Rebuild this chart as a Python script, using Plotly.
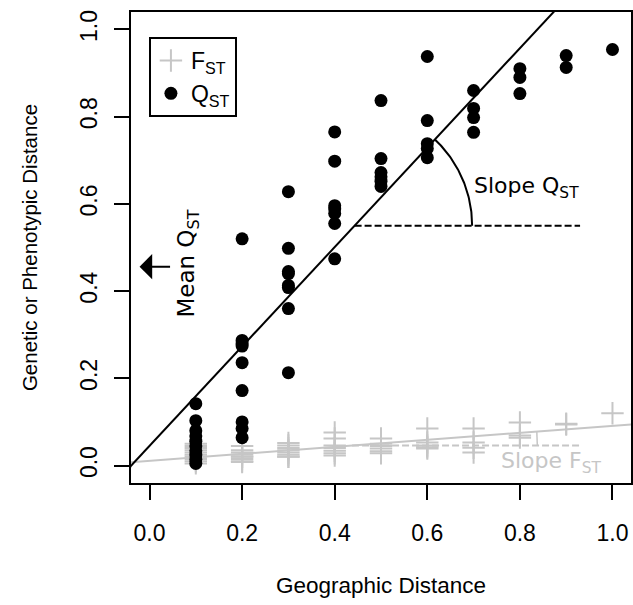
import numpy as np
import plotly.graph_objects as go

# ---------------- data ----------------
geo_distance = [0.1, 0.2, 0.3, 0.4, 0.5, 0.6, 0.7, 0.8, 0.9, 1.0]

qst_by_distance = [
    [0.142, 0.103, 0.080, 0.068, 0.056, 0.045, 0.034, 0.024, 0.014, 0.005],
    [0.520, 0.287, 0.280, 0.274, 0.236, 0.172, 0.100, 0.085, 0.064],
    [0.628, 0.498, 0.445, 0.440, 0.413, 0.408, 0.360, 0.213],
    [0.765, 0.698, 0.596, 0.588, 0.578, 0.555, 0.474],
    [0.837, 0.704, 0.672, 0.662, 0.652, 0.640],
    [0.938, 0.791, 0.738, 0.727, 0.706],
    [0.860, 0.819, 0.798, 0.764],
    [0.910, 0.890, 0.853],
    [0.940, 0.913],
    [0.954],
]

fst_by_distance = [
    [0.050, 0.045, 0.040, 0.035, 0.030, 0.025, 0.020, 0.015, 0.010, 0.005],
    [0.045, 0.035, 0.030, 0.025, 0.020, 0.020, 0.015, 0.010, 0.008],
    [0.052, 0.046, 0.040, 0.035, 0.030, 0.025, 0.020, 0.020],
    [0.076, 0.062, 0.046, 0.040, 0.034, 0.028, 0.023],
    [0.062, 0.050, 0.045, 0.039, 0.033, 0.028],
    [0.085, 0.053, 0.046, 0.042, 0.039],
    [0.085, 0.053, 0.041, 0.030],
    [0.099, 0.069, 0.064],
    [0.096, 0.094],
    [0.120],
]

# regression lines (intercept, slope)
qst_fit = [0.045, 1.14]
fst_fit = [0.011, 0.08]
# horizontal reference levels for the slope illustrations, and the end of the dashes
qst_slope_level = 0.55
fst_slope_level = 0.046
slope_dash_end = 0.93
mean_qst = 0.456

x_ticks = [0.0, 0.2, 0.4, 0.6, 0.8, 1.0]
y_ticks = [0.0, 0.2, 0.4, 0.6, 0.8, 1.0]

# ---------------- layout geometry ----------------
W, H = 633, 605
M_L, M_R, M_T, M_B = 131, 0, 12, 122
x_range = [-0.04, 1.04]
y_range = [-0.04, 1.04]
px_per_x = (W - M_L - M_R) / (x_range[1] - x_range[0])
px_per_y = (H - M_T - M_B) / (y_range[1] - y_range[0])

BLACK = "#000000"
GREY = "#c6c6c6"
AX_FONT = "Liberation Sans, Arial, Helvetica, sans-serif"
ANN_FONT = "DejaVu Sans, Verdana, sans-serif"

def flatten(dists, groups):
    xs, ys = [], []
    for d, g in zip(dists, groups):
        xs.extend([d] * len(g))
        ys.extend(g)
    return xs, ys

qx, qy = flatten(geo_distance, qst_by_distance)
fx, fy = flatten(geo_distance, fst_by_distance)

def arc(fit, level, radius_px, n=60):
    a, b = fit
    x0 = (level - a) / b
    ang = np.arctan(b * px_per_y / px_per_x)
    t = np.linspace(0, ang, n)
    return x0 + radius_px * np.cos(t) / px_per_x, level + radius_px * np.sin(t) / px_per_y

fig = go.Figure()

# FST points and line
fig.add_trace(go.Scatter(
    x=fx, y=fy, mode="markers", name="F<sub>ST</sub>",
    marker=dict(symbol="cross-thin", size=16, color=GREY, line=dict(width=2, color=GREY)),
))
xl = np.array([-0.1, 1.1])
fig.add_trace(go.Scatter(x=xl, y=fst_fit[0] + fst_fit[1] * xl, mode="lines",
                         line=dict(color=GREY, width=2), showlegend=False, hoverinfo="skip"))
# FST slope illustration
fx0 = (fst_slope_level - fst_fit[0]) / fst_fit[1]
fig.add_trace(go.Scatter(x=[fx0, slope_dash_end], y=[fst_slope_level] * 2, mode="lines",
                         line=dict(color=GREY, width=2, dash="7px,3px"), showlegend=False, hoverinfo="skip"))
ax_, ay_ = arc(fst_fit, fst_slope_level, 186)
fig.add_trace(go.Scatter(x=ax_, y=ay_, mode="lines", line=dict(color=GREY, width=1.5),
                         showlegend=False, hoverinfo="skip"))

# QST points and line
fig.add_trace(go.Scatter(
    x=qx, y=qy, mode="markers", name="Q<sub>ST</sub>",
    marker=dict(symbol="circle", size=13, color=BLACK),
))
fig.add_trace(go.Scatter(x=xl, y=qst_fit[0] + qst_fit[1] * xl, mode="lines",
                         line=dict(color=BLACK, width=2), showlegend=False, hoverinfo="skip"))
qx0 = (qst_slope_level - qst_fit[0]) / qst_fit[1]
fig.add_trace(go.Scatter(x=[qx0, slope_dash_end], y=[qst_slope_level] * 2, mode="lines",
                         line=dict(color=BLACK, width=2, dash="7px,3px"), showlegend=False, hoverinfo="skip"))
ax_, ay_ = arc(qst_fit, qst_slope_level, 118)
fig.add_trace(go.Scatter(x=ax_, y=ay_, mode="lines", line=dict(color=BLACK, width=2),
                         showlegend=False, hoverinfo="skip"))

# annotations
fig.add_annotation(x=0.696, y=0.638, text="Slope Q<sub>ST</sub>", showarrow=False,
                   xanchor="left", yanchor="middle", font=dict(family=ANN_FONT, size=22, color=BLACK))
fig.add_annotation(x=0.754, y=0.007, text="Slope F<sub>ST</sub>", showarrow=False,
                   xanchor="left", yanchor="middle", font=dict(family=ANN_FONT, size=22, color=GREY))
fig.add_annotation(x=0.084, y=mean_qst + 0.008, text="Mean Q<sub>ST</sub>", showarrow=False, textangle=-90,
                   xanchor="center", yanchor="middle", font=dict(family=ANN_FONT, size=23, color=BLACK))
fig.add_annotation(x=-10 / px_per_x, y=mean_qst, ax=32, ay=0, text="", showarrow=True,
                   arrowhead=1, arrowsize=2.1, arrowwidth=2, arrowcolor=BLACK, standoff=0)

axis_common = dict(
    showgrid=False, zeroline=False, showline=True, mirror=True, linecolor=BLACK, linewidth=2,
    ticks="outside", ticklen=15, tickwidth=2, tickcolor=BLACK,
    tickfont=dict(family=AX_FONT, size=23, color=BLACK),
)

fig.update_layout(
    width=W, height=H,
    margin=dict(l=M_L, r=M_R, t=M_T, b=M_B),
    paper_bgcolor="white", plot_bgcolor="white",
    xaxis=dict(range=x_range, tickvals=x_ticks, ticktext=[f"{v:.1f}" for v in x_ticks],
               ticklabelstandoff=13,
               title=dict(text="Geographic Distance", font=dict(family=AX_FONT, size=22.5, color=BLACK), standoff=33),
               **axis_common),
    yaxis=dict(range=y_range, tickvals=y_ticks, ticktext=[f"{v:.1f}" for v in y_ticks],
               tickangle=-90, ticklabelstandoff=8,
               title=dict(text="Genetic or Phenotypic Distance", font=dict(family=AX_FONT, size=20.5, color=BLACK), standoff=33),
               **axis_common),
    legend=dict(x=(149 - M_L) / (W - M_L - M_R), y=(H - M_B - 37) / (H - M_T - M_B),
                xanchor="left", yanchor="top", bordercolor=BLACK, borderwidth=2, bgcolor="white",
                font=dict(family=AX_FONT, size=23, color=BLACK), tracegroupgap=0),
    showlegend=True,
)

fig.write_html("out.html")
